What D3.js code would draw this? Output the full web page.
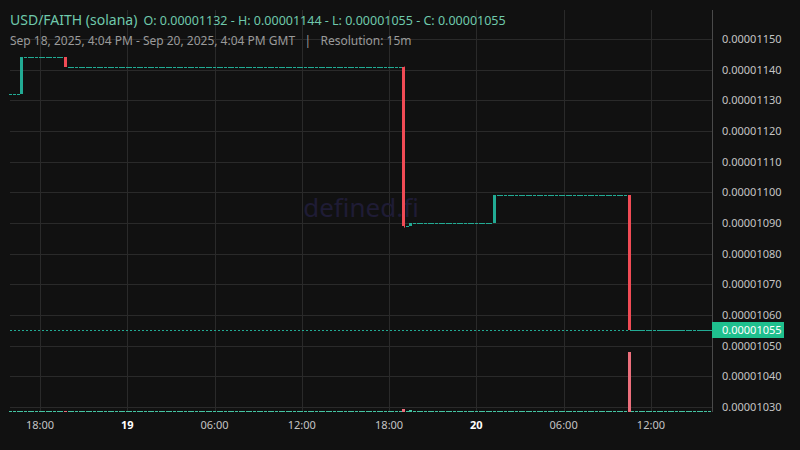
<!DOCTYPE html>
<html lang="en">
<head>
  <meta charset="UTF-8">
  <title>USD/FAITH (solana)</title>
  <script src="https://d3js.org/d3.v7.min.js"></script>
  <style>
    body {
      margin: 0;
      background: #111111;
      font-family: "Noto Sans", sans-serif;
    }
    .grid line {
      stroke: #2a2a2a;
      stroke-width: 1px;
    }
    .axis-label {
      fill: #c4c4c4;
      font-size: 11px;
    }
  </style>
</head>
<body>
<script>
// 15m candles, Sep 18 16:00 -> Sep 20 16:00 UTC. Candles that are not listed
// below had no trades: they sit flat on the previous close with zero volume.
const startCandle = "2025-09-18T16:00:00Z";
const endCandle = "2025-09-20T16:00:00Z";
const firstClose = 0.00001132;

const moveTimes = ["2025-09-18T16:45:00Z", "2025-09-18T19:45:00Z", "2025-09-19T19:00:00Z",
                   "2025-09-19T19:30:00Z", "2025-09-20T01:15:00Z", "2025-09-20T10:30:00Z"];
const moveOpen  = [0.00001132, 0.00001144, 0.00001141, 0.00001089, 0.00001090, 0.00001099];
const moveHigh  = [0.00001144, 0.00001144, 0.00001141, 0.00001090, 0.00001099, 0.00001099];
const moveLow   = [0.00001132, 0.00001141, 0.000010885, 0.00001089, 0.00001090, 0.00001055];
const moveClose = [0.00001144, 0.00001141, 0.00001089, 0.00001090, 0.00001099, 0.00001055];
const moveVolume = [4, 3, 45, 30, 5, 1000];

const priceTicks = [0.0000115, 0.0000114, 0.0000113, 0.0000112, 0.0000111, 0.000011,
                    0.0000109, 0.0000108, 0.0000107, 0.0000106, 0.0000105, 0.0000104, 0.0000103];
const priceDomain = [0.0000102837, 0.0000115946];
const timeDomain = ["2025-09-18T15:56:00Z", "2025-09-20T16:12:00Z"];

const title = "USD/FAITH (solana)";
const subtitle = "Sep 18, 2025, 4:04 PM - Sep 20, 2025, 4:04 PM GMT   |   Resolution: 15m";
const watermark = "defined.fi";

const upColor = "#22ab94", downColor = "#f04b55";
const upVol = "#45c4a2", downVol = "#ec6f7c";

// build the candle list
const moves = new Map(moveTimes.map((t, i) => [+new Date(t), i]));
const candles = [];
let last = firstClose;
for (let t = new Date(startCandle); t <= new Date(endCandle); t = d3.utcMinute.offset(t, 15)) {
  const i = moves.get(+t);
  if (i !== undefined) {
    candles.push({ t, o: moveOpen[i], h: moveHigh[i], l: moveLow[i], c: moveClose[i], v: moveVolume[i] });
    last = moveClose[i];
  } else {
    candles.push({ t, o: last, h: last, l: last, c: last, v: 0 });
  }
}
const lastClose = candles[candles.length - 1].c;

const W = 800, H = 450;
const plot = { left: 10, right: 712, top: 10, bottom: 412 };

const svg = d3.select("body").append("svg")
  .attr("width", W).attr("height", H)
  .style("display", "block")
  .style("background", "#111111");

const x = d3.scaleUtc()
  .domain(timeDomain.map(d => new Date(d)))
  .range([plot.left, plot.right]);
const y = d3.scaleLinear().domain(priceDomain).range([plot.bottom, plot.top]);
const yVol = d3.scaleLinear().domain([0, d3.max(candles, d => d.v)]).range([plot.bottom, plot.bottom - 60]);

const timeTicks = x.ticks(d3.utcHour.every(6));

// grid
const grid = svg.append("g").attr("class", "grid");
grid.selectAll(".h").data(priceTicks).enter().append("line")
  .attr("x1", plot.left).attr("x2", plot.right)
  .attr("y1", d => Math.round(y(d)) + 0.5).attr("y2", d => Math.round(y(d)) + 0.5);
grid.selectAll(".v").data(timeTicks).enter().append("line")
  .attr("x1", d => Math.round(x(d)) + 0.5).attr("x2", d => Math.round(x(d)) + 0.5)
  .attr("y1", plot.top).attr("y2", plot.bottom);

// watermark
svg.append("text")
  .attr("x", (plot.left + plot.right) / 2).attr("y", 217)
  .attr("text-anchor", "middle")
  .style("font-size", "26px")
  .style("fill", "#1f1c35")
  .text(watermark);

const clip = svg.append("g");
const bw = 3;

// volume
clip.selectAll(".vol").data(candles).enter().append("rect")
  .attr("x", d => Math.round(x(d.t) - bw / 2))
  .attr("width", bw)
  .attr("y", d => Math.min(plot.bottom - 1, Math.round(yVol(d.v))))
  .attr("height", d => Math.max(1, plot.bottom - Math.round(yVol(d.v))))
  .style("fill", d => d.c < d.o ? downVol : upVol);

// last price line
svg.append("line")
  .attr("x1", plot.left).attr("x2", plot.right)
  .attr("y1", Math.round(y(lastClose)) + 0.5).attr("y2", Math.round(y(lastClose)) + 0.5)
  .style("stroke", upColor)
  .style("stroke-width", 1)
  .style("stroke-dasharray", "2,2");

// candles
const candle = clip.selectAll(".candle").data(candles).enter().append("g");
candle.filter(d => d.h !== Math.max(d.o, d.c) || d.l !== Math.min(d.o, d.c))
  .append("line")
  .attr("x1", d => Math.round(x(d.t)) + 0.5).attr("x2", d => Math.round(x(d.t)) + 0.5)
  .attr("y1", d => y(d.h)).attr("y2", d => y(d.l))
  .style("stroke", d => d.c < d.o ? downColor : upColor);
candle.append("rect")
  .attr("x", d => Math.round(x(d.t) - bw / 2))
  .attr("width", bw)
  .attr("y", d => Math.round(y(Math.max(d.o, d.c))))
  .attr("height", d => Math.max(1, Math.round(y(Math.min(d.o, d.c))) - Math.round(y(Math.max(d.o, d.c)))))
  .style("fill", d => d.c < d.o ? downColor : upColor);

// right axis
svg.append("line")
  .attr("x1", plot.right + 0.5).attr("x2", plot.right + 0.5)
  .attr("y1", plot.top).attr("y2", plot.bottom)
  .style("stroke", "#4a4a4a");
svg.selectAll(".ylab").data(priceTicks).enter().append("text")
  .attr("class", "axis-label")
  .attr("x", 722).attr("y", d => y(d) + 4)
  .text(d => d.toFixed(8));

// last price label
svg.append("rect")
  .attr("x", plot.right).attr("y", Math.round(y(lastClose)) - 8)
  .attr("width", 72).attr("height", 16)
  .style("fill", "#1fc08e");
svg.append("text")
  .attr("x", 722).attr("y", Math.round(y(lastClose)) + 4)
  .style("font-size", "11px").style("fill", "#ffffff")
  .text(lastClose.toFixed(8));

// bottom axis
svg.selectAll(".xlab").data(timeTicks).enter().append("text")
  .attr("x", d => x(d)).attr("y", 429)
  .attr("text-anchor", "middle")
  .style("font-size", "11px")
  .style("font-weight", d => d.getUTCHours() === 0 ? "bold" : "normal")
  .style("fill", d => d.getUTCHours() === 0 ? "#ffffff" : "#c4c4c4")
  .text(d => d.getUTCHours() === 0 ? d3.utcFormat("%-d")(d) : d3.utcFormat("%H:%M")(d));

// header
const fmt = v => v.toFixed(8);
const head = svg.append("text").attr("x", 10).attr("y", 25);
head.append("tspan").style("font-size", "14px").style("fill", "#6fc9ac").text(title);
head.append("tspan").attr("dx", 6).style("font-size", "12.5px").style("fill", "#6fc9ac")
  .text(`O: ${fmt(candles[0].o)} - H: ${fmt(d3.max(candles, d => d.h))} - L: ${fmt(d3.min(candles, d => d.c))} - C: ${fmt(lastClose)}`);
svg.append("text").attr("x", 10).attr("y", 45)
  .style("font-size", "12px").style("fill", "#9a9a9a")
  .attr("xml:space", "preserve")
  .text(subtitle);
</script>
</body>
</html>
